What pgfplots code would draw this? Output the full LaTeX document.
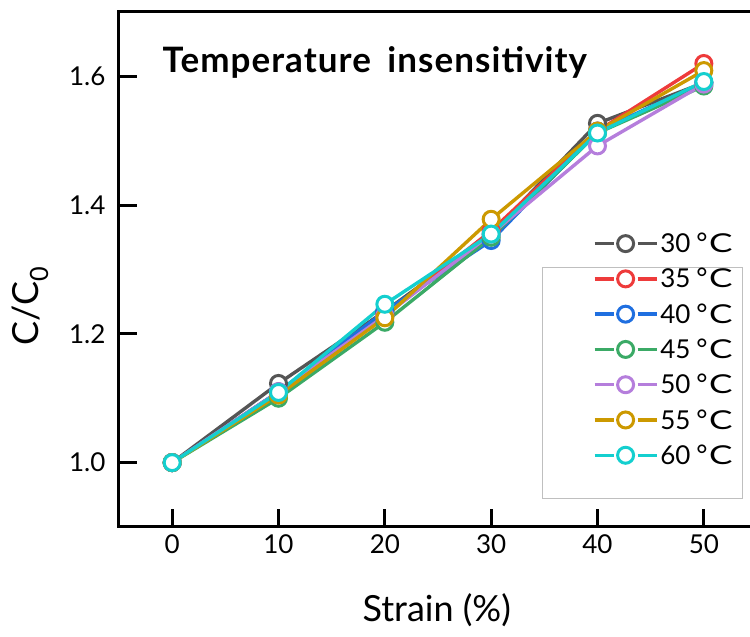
\documentclass[border=0pt]{standalone}
\usepackage{fontspec}
\setmainfont{Lato}
\usepackage{graphicx}
\newcommand{\degc}{\hspace{6pt}{\fontsize{27}{27}\selectfont °}\kern1.5pt\scalebox{1.35}[1]{C}}
\usepackage{pgfplots}
\pgfplotsset{compat=1.18}
\usetikzlibrary{calc}
\definecolor{cgray}{HTML}{555555}
\definecolor{cred}{HTML}{EE3B3B}
\definecolor{cblue}{HTML}{1F6FE0}
\definecolor{cgreen}{HTML}{3BAA66}
\definecolor{cpurple}{HTML}{B57EDC}
\definecolor{cgold}{HTML}{CC9900}
\definecolor{ccyan}{HTML}{14CFCF}
\begin{document}
\begin{tikzpicture}
\begin{axis}[
  name=ax,
  scale only axis,
  width=638pt, height=515pt,
  xmin=-5, xmax=55, ymin=0.9, ymax=1.7,
  xtick={0,10,20,30,40,50},
  ytick={1.0,1.2,1.4,1.6},
  yticklabel style={/pgf/number format/fixed, /pgf/number format/fixed zerofill, /pgf/number format/precision=1, xshift=-10pt},
  /pgf/number format/assume math mode=true,
  tick pos=left,
  tick align=inside,
  major tick length=18pt,
  every tick/.style={black, line width=3pt},
  axis line style={line width=3pt},
  ticklabel style={font=\fontsize{26}{31}\selectfont},
  xticklabel style={yshift=-4pt},
  xlabel={Strain (\%)},
  ylabel={C/C\textsubscript{0}},
  label style={font=\fontsize{36}{43}\selectfont},
  xlabel style={at={(axis description cs:0.498,-0.161)}, anchor=center},
  ylabel style={at={(axis description cs:-0.1395,0.43)}, anchor=center},
  every axis plot/.append style={line width=3.4pt, mark=*, mark size=8pt,
     mark options={fill=white, line width=3pt}},
  legend style={draw=none, fill=none, at={(axis cs:39.55,1.36)}, anchor=north west,
     font=\fontsize{26}{31}\selectfont, row sep=10.2pt, inner sep=0pt},
  legend cell align=left,
  legend image code/.code={%
     \draw[#1, mark=none] (0pt,0pt) -- (19pt,0pt);
     \draw[#1, mark=none] (43pt,0pt) -- (62pt,0pt);
     \draw[#1] plot coordinates {(31pt,0pt)};},
]
\draw[black!25, line width=1pt] (axis cs:34.87,1.303) rectangle (axis cs:53.67,0.944);
\node[anchor=west, font=\fontsize{35}{42}\selectfont\bfseries\addfontfeatures{LetterSpace=3}] at (rel axis cs:0.063,0.903) {Temperature\hspace{7pt} insensitivity};
\addplot[cgray] coordinates {(0,1.0) (10,1.123) (20,1.235) (30,1.355) (40,1.527) (50,1.590)};
\addlegendentry{30\degc}
\addplot[cred] coordinates {(0,1.0) (10,1.110) (20,1.230) (30,1.360) (40,1.515) (50,1.620)};
\addlegendentry{35\degc}
\addplot[cblue] coordinates {(0,1.0) (10,1.110) (20,1.235) (30,1.345) (40,1.515) (50,1.590)};
\addlegendentry{40\degc}
\addplot[cgreen] coordinates {(0,1.0) (10,1.100) (20,1.218) (30,1.350) (40,1.512) (50,1.585)};
\addlegendentry{45\degc}
\addplot[cpurple] coordinates {(0,1.0) (10,1.110) (20,1.228) (30,1.355) (40,1.492) (50,1.588)};
\addlegendentry{50\degc}
\addplot[cgold] coordinates {(0,1.0) (10,1.105) (20,1.225) (30,1.378) (40,1.515) (50,1.609)};
\addlegendentry{55\degc}
\addplot[ccyan] coordinates {(0,1.0) (10,1.109) (20,1.246) (30,1.355) (40,1.512) (50,1.592)};
\addlegendentry{60\degc}
\end{axis}
\pgfresetboundingbox
\useasboundingbox ($(ax.south west)+(-119pt,-110pt)$) rectangle ($(ax.north west)+(631pt,12pt)$);
\end{tikzpicture}
\end{document}
